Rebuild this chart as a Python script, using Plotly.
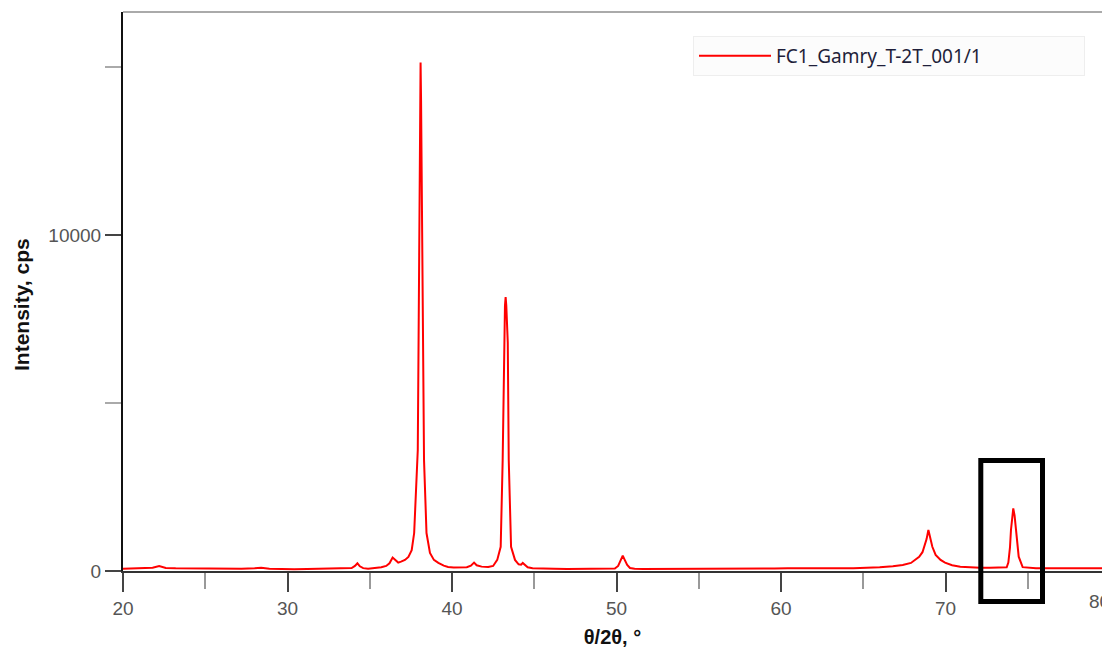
import plotly.graph_objects as go

# 2theta (deg) and intensity (cps)
two_theta = [
    20.0, 20.6, 21.2, 21.8, 22.2, 22.6, 23.2, 24.0, 24.8, 25.6, 26.4, 27.2, 28.0, 28.4, 28.9,
    29.6, 30.4, 31.2, 32.0, 32.8, 33.5, 33.9, 34.1, 34.25, 34.4, 34.6, 34.9, 35.3, 35.7, 36.0,
    36.2, 36.39, 36.55, 36.73, 36.9, 37.14, 37.35, 37.55, 37.7, 37.85, 37.92, 37.97, 38.02,
    38.06, 38.09, 38.12, 38.17, 38.22, 38.3, 38.45, 38.66, 38.9, 39.17, 39.5, 39.76, 40.1,
    40.5, 40.9, 41.15, 41.34, 41.5, 41.8, 42.2, 42.5, 42.75, 42.96, 43.08, 43.16, 43.22,
    43.26, 43.3, 43.39, 43.45, 43.59, 43.83, 44.05, 44.2, 44.3, 44.42, 44.6, 44.9, 45.4,
    46.2, 47.0, 47.8, 48.6, 49.4, 49.9, 50.1, 50.25, 50.38, 50.5, 50.65, 50.82, 51.1, 51.6,
    52.4, 53.2, 54.0, 54.8, 55.6, 56.4, 57.2, 58.0, 58.8, 59.6, 60.4, 61.2, 62.0, 62.8,
    63.6, 64.4, 65.2, 66.0, 66.8, 67.4, 67.9, 68.15, 68.4, 68.6, 68.72, 68.85, 68.96,
    69.05, 69.2, 69.4, 69.7, 69.97, 70.4, 70.9, 71.5, 72.1, 72.7, 73.2, 73.55, 73.72,
    73.82, 73.92, 73.98, 74.05, 74.12, 74.2, 74.28, 74.36, 74.45, 74.69, 75.0, 75.5,
    76.2, 77.0, 77.8, 78.6, 79.4, 80.2
]
intensity = [
    70, 80, 85, 95, 150, 90, 80, 75, 70, 65, 60, 70, 80, 95, 70,
    60, 55, 60, 65, 70, 75, 90, 150, 230, 140, 85, 70, 85, 110, 150,
    230, 400, 320, 250, 280, 330, 420, 620, 1130, 2800, 3600, 7000, 11000,
    14000, 15130, 14000, 11000, 7000, 3300, 1130, 535, 330, 240, 160, 120, 105,
    100, 110, 160, 250, 170, 130, 120, 150, 330, 720, 3300, 6800, 7900,
    8150, 7900, 6800, 3300, 720, 330, 200, 190, 240, 180, 110, 85, 70,
    65, 60, 60, 55, 60, 75, 150, 300, 455, 330, 180, 90, 65, 60,
    60, 55, 60, 65, 60, 55, 60, 65, 70, 75, 80, 75, 70, 75,
    80, 85, 95, 110, 140, 180, 240, 330, 420, 560, 720, 950, 1220,
    1050, 720, 480, 330, 250, 170, 130, 110, 100, 95, 100, 105, 110,
    250, 700, 1220, 1600, 1865, 1650, 1220, 750, 425, 115, 95, 85,
    80, 85, 80, 85, 90, 85
]
series_name = "FC1_Gamry_T-2T_001/1"
x_title = "θ/2θ, °"
y_title = "Intensity, cps"
x_tick_vals = [20, 30, 40, 50, 60, 70]
y_tick_vals = [0, 10000]

# page geometry (body margin removed by post_script so the figure sits at 0,0)
PAGE_W, PAGE_H = 1102, 648
W, H = PAGE_W, PAGE_H
PL, PT, PB = 123, 12, 571          # plot left / top / bottom in page pixels
L, T, R, B = PL, PT, 0, PAGE_H - PB
pw = W - L - R
ph = H - T - B


def px_x(p):
    return (p - PL) / pw


def px_y(p):
    return (PB - p) / ph


x_range = [20, 20 + pw / 16.45]
y_range = [0, ph / 0.0336]

fig = go.Figure()
fig.add_trace(go.Scatter(
    x=two_theta, y=intensity, mode="lines", name=series_name,
    line=dict(color="#ff0000", width=2),
))

tick_font = dict(family="Liberation Sans, Arial, sans-serif", size=19, color="#555555")
title_font = dict(family="Liberation Sans, Arial, sans-serif", size=20, color="#111111")
ytitle_font = dict(family="Liberation Sans, Arial, sans-serif", size=21, color="#111111")

fig.update_layout(
    width=W, height=H,
    margin=dict(l=L, r=R, t=T, b=B, autoexpand=False),
    paper_bgcolor="white", plot_bgcolor="white",
    showlegend=True,
    legend=dict(
        x=px_x(693), y=px_y(36), xanchor="left", yanchor="top",
        orientation="h", entrywidth=303, entrywidthmode="pixels",
        bgcolor="#fcfcfc", bordercolor="#eeeeee", borderwidth=1,
        font=dict(family="Noto Sans, Open Sans, sans-serif", size=19, color="#1f1f3a"),
        itemwidth=72,
    ),
    xaxis=dict(
        range=x_range, tickvals=x_tick_vals, ticktext=[str(v) for v in x_tick_vals],
        showgrid=False, zeroline=False, showline=True, linecolor="#333333", linewidth=2,
        ticks="outside", ticklen=19, tickwidth=2, tickcolor="#444444",
        minor=dict(dtick=5, tick0=20, ticks="outside", ticklen=16, tickwidth=1.5,
                   tickcolor="#999999", showgrid=False),
        tickfont=tick_font,
        title=dict(text="<b>" + x_title + "</b>", font=title_font, standoff=16),
    ),
    yaxis=dict(
        range=y_range, tickvals=y_tick_vals, ticktext=[str(v) for v in y_tick_vals],
        showgrid=False, zeroline=False, showline=True, linecolor="#111111", linewidth=2,
        ticks="outside", ticklen=16, tickwidth=2, tickcolor="#444444",
        minor=dict(dtick=5000, tick0=0, ticks="outside", ticklen=16, tickwidth=1.5,
                   tickcolor="#aaaaaa", showgrid=False),
        tickfont=tick_font,
    ),
    shapes=[
        # grey top frame line
        dict(type="line", xref="paper", yref="paper", x0=0, x1=1, y0=1, y1=1,
             line=dict(color="#aaaaaa", width=2)),
        # black highlight rectangle
        dict(type="rect", xref="paper", yref="paper",
             x0=px_x(980.8), x1=px_x(1042.5), y0=px_y(601.5), y1=px_y(460.5),
             line=dict(color="black", width=5), fillcolor="rgba(0,0,0,0)"),
    ],
    annotations=[
        # y axis title, placed as in the reference (slightly below plot centre)
        dict(text="<b>" + y_title + "</b>", xref="paper", yref="paper",
             x=px_x(21), y=px_y(305), xanchor="center", yanchor="middle",
             textangle=-90, showarrow=False, font=ytitle_font),
        # "80" tick label, cut by the right edge as in the reference
        dict(text="80", xref="paper", yref="paper", x=px_x(1099), y=px_y(601),
             xanchor="center", yanchor="middle", showarrow=False, font=tick_font),
    ],
)

fig.write_html(
    "out.html",
    config={"displayModeBar": False},
    post_script="document.body.style.margin='0';document.body.style.overflow='hidden';",
)
